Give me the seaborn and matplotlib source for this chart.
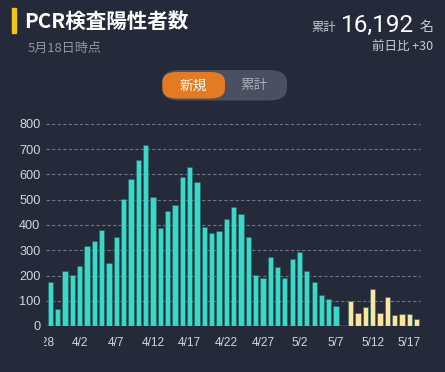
import matplotlib
matplotlib.use("Agg")
import matplotlib.pyplot as plt
import seaborn as sns
import pandas as pd
from matplotlib.patches import FancyBboxPatch, Rectangle
from matplotlib.transforms import Bbox, TransformedBbox, offset_copy

# ---- data ----
dates = [f"3/{d}" for d in range(29, 32)] + [f"4/{d}" for d in range(1, 31)] + [f"5/{d}" for d in range(1, 19)]
counts = [173, 66, 219, 201, 236, 316, 337, 380, 248, 352,
          502, 582, 659, 716, 510, 388, 457, 479, 589, 630,
          569, 391, 367, 378, 425, 470, 442, 352, 202, 190,
          275, 235, 191, 264, 294, 218, 174, 123, 108, 80,
          0, 98, 50, 75, 147, 53, 114, 44, 46, 49, 28]
status = ["確定"] * 41 + ["速報"] * 10
tick_labels = ["3/28", "4/2", "4/7", "4/12", "4/17", "4/22", "4/27", "5/2", "5/7", "5/12", "5/17"]
title = "PCR検査陽性者数"
subtitle = "5月18日時点"
total_label = "16,192"
diff_label = "前日比 +30"

BG = "#252a3b"
TEAL = "#3ad8c6"
YELLOW = "#fce59c"

sns.set_theme(style="dark")
plt.rcParams["font.family"] = ["Noto Sans CJK JP", "DejaVu Sans"]

W, H = 445, 372
fig = plt.figure(figsize=(W / 100, H / 100), dpi=100, facecolor=BG)


def fx(x):
    return x / W


def fy(y):
    return 1 - y / H


ax = fig.add_axes([fx(46), fy(326), fx(420) - fx(46), fy(124) - fy(326)])
ax.set_facecolor(BG)

df = pd.DataFrame({"date": dates, "count": counts, "status": status})
sns.barplot(data=df, x="date", y="count", hue="status", order=dates,
            palette={"確定": TEAL, "速報": YELLOW}, dodge=False, width=0.72,
            saturation=1, edgecolor="#22605d", linewidth=0.4, legend=False, ax=ax)

ax.set_xlim(-0.61, len(dates) - 1 + 0.45)
ax.set_ylim(0, 800)
ax.set_yticks(range(0, 801, 100))
ax.set_yticklabels([str(v) for v in range(0, 801, 100)], fontsize=9.2,
                   color="#d3d6dc", family=["Liberation Sans", "DejaVu Sans"])

tick_pos = [dates.index(t) for t in tick_labels if t in dates]
ax.set_xticks(tick_pos)
ax.set_xticklabels([t for t in tick_labels if t in dates], fontsize=8.6,
                   color="#d3d6dc", family=["Liberation Sans", "DejaVu Sans"])
ax.tick_params(axis="both", length=0)
ax.tick_params(axis="y", pad=4)
ax.tick_params(axis="x", pad=8)
ax.set_xlabel("")
ax.set_ylabel("")
for s in ax.spines.values():
    s.set_visible(False)
ax.grid(False)
for v in range(100, 801, 100):
    ax.axhline(v, color="#6f7486", lw=0.8, ls=(0, (3, 2)), zorder=0, clip_on=False)
ax.axhline(0, color="#a3a8b3", lw=1.0, zorder=3)

# clipped first tick label (3/28) partly hidden at left edge
t = ax.text(-1, 0, tick_labels[0],
            transform=offset_copy(ax.get_xaxis_transform(), fig=fig, y=-8, units="points"),
            ha="center", va="top", fontsize=8.6, color="#d3d6dc",
            family=["Liberation Sans", "DejaVu Sans"], clip_on=True)
t.set_clip_box(TransformedBbox(Bbox.from_extents(fx(44), 0, 1, 1), fig.transFigure))

# ---- header ----
fig.patches.append(Rectangle((fx(12), fy(33)), fx(4), fy(8) - fy(33),
                             transform=fig.transFigure, color="#f2c21b"))
fig.text(fx(24), fy(28), title, fontsize=14.8, fontweight="bold", color="white",
         ha="left", va="baseline")
fig.text(fx(28), fy(51.5), subtitle, fontsize=9.4, color="#8f95a2",
         ha="left", va="baseline")

fig.text(fx(433), fy(31), "名", fontsize=10, color="#c9ccd3", ha="right", va="baseline")
fig.text(fx(414), fy(31.5), total_label, fontsize=17.5, color="white", ha="right", va="baseline",
         family=["Roboto", "DejaVu Sans"])
fig.text(fx(336), fy(31), "累計", fontsize=8.8, color="#c9ccd3", ha="right", va="baseline")
fig.text(fx(433), fy(50), diff_label, fontsize=9, color="#c9ccd3", ha="right", va="baseline")

# ---- toggle ----
fig.patches.append(FancyBboxPatch((fx(162), fy(100.5)), fx(287) - fx(162), fy(70) - fy(100.5),
                                  boxstyle="round,pad=0,rounding_size=0.04",
                                  transform=fig.transFigure, facecolor="#4a5062",
                                  edgecolor="none", mutation_aspect=H / W))
fig.patches.append(FancyBboxPatch((fx(162.5), fy(98.5)), fx(225) - fx(162.5), fy(72) - fy(98.5),
                                  boxstyle="round,pad=0,rounding_size=0.032",
                                  transform=fig.transFigure, facecolor="#e57b20",
                                  edgecolor="none", mutation_aspect=H / W))
fig.text(fx(193.5), fy(85.5), "新規", fontsize=9.8, color="white", ha="center", va="center")
fig.text(fx(254), fy(85.5), "累計", fontsize=9.8, color="#a8adb8", ha="center", va="center")

fig.savefig("out.png", dpi=100, facecolor=BG)
